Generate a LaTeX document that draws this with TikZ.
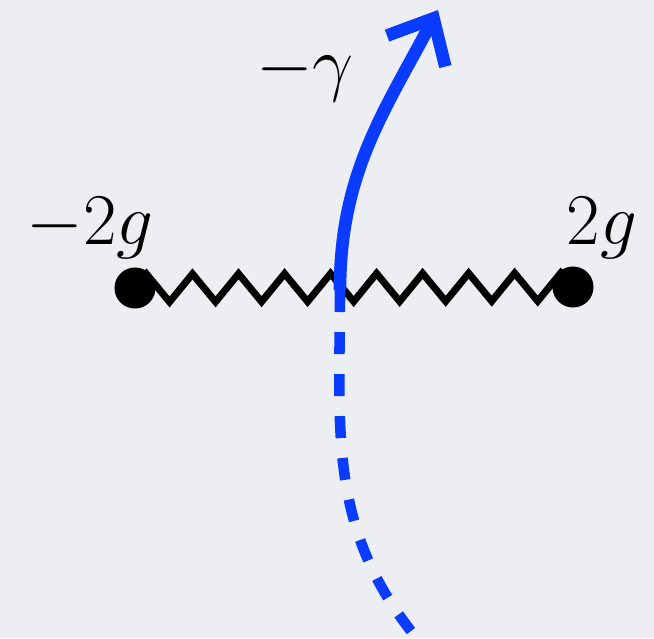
\documentclass[tikz,border=0pt]{standalone}
\usepackage{amsmath}
\usetikzlibrary{arrows.meta,decorations.pathmorphing}
\definecolor{paper}{HTML}{ECEEF2}
\definecolor{flow}{HTML}{0A3CFF}
\definecolor{ink}{HTML}{000000}

\begin{document}
\begin{tikzpicture}[x=0.01cm, y=0.01cm, font=\fontsize{21}{25}\selectfont,
    pole/.style={circle, fill=ink, inner sep=0pt, minimum size=4.1mm},
    cut/.style={ink, line width=2pt, decorate,
      decoration={zigzag, segment length=4.6mm, amplitude=1.4mm}},
    flowline/.style={flow, line width=3.6pt}]
  \fill[paper] (0,0) rectangle (654,638);
  \useasboundingbox (0,0) rectangle (654,638);
  % branch cut between the two poles
  \node[pole] (lpole) at (135,350) {};
  \node[pole] (rpole) at (573,351) {};
  \draw[cut] (lpole.center) -- (rpole.center);
  \node (lbl) at (90,410) {$-2g$};
  \node (rbl) at (602,410) {$2g$};
  % flow of the parameter
  \coordinate (cross) at (340,348);
  \coordinate (top) at (438,628);
  \coordinate (bottom) at (411,7);
  \draw[flowline, -{Straight Barb[length=3.7mm, width=6.6mm]}] (cross) to[out=90, in=-118] (top);
  \draw[flowline, line width=3pt, dash pattern=on 2.2mm off 2mm] (cross) to[out=-90, in=128] (bottom);
  \node (gam) at (305,565) {$-\gamma$};
\end{tikzpicture}
\end{document}
